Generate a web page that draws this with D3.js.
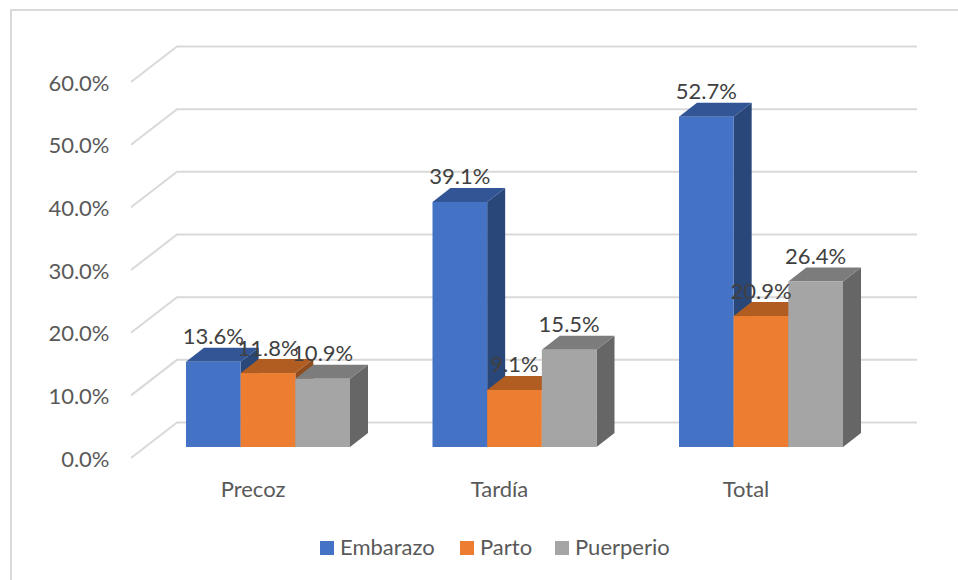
<!DOCTYPE html>
<html>
<head>
<meta charset="utf-8">
<script src="https://cdn.jsdelivr.net/npm/d3@7"></script>
<style>
  html, body { margin: 0; padding: 0; background: #fff; }
  svg { display: block; }
  text { font-family: Lato, "Open Sans", sans-serif; }
</style>
</head>
<body>
<svg width="958" height="580"></svg>
<script>
var categories = ["Precoz", "Tardía", "Total"];
var seriesNames = ["Embarazo", "Parto", "Puerperio"];
var embarazo = [13.6, 39.1, 52.7];
var parto = [11.8, 9.1, 20.9];
var puerperio = [10.9, 15.5, 26.4];
var seriesValues = [embarazo, parto, puerperio];
var tickValues = [0, 10, 20, 30, 40, 50, 60];

var front = ["#4472c4", "#ed7d31", "#a5a5a5"];
var top_ = ["#325595", "#b15d22", "#7c7c7c"];
var side = ["#2a4779", "#904c1c", "#666666"];

var svg = d3.select("svg");

// chart frame, only the top and left edges are in the picture
svg.append("path").attr("d", "M11,580V10H958")
  .attr("fill", "none").attr("stroke", "#d9d9d9").attr("stroke-width", 2);

// wall offset of the 3d box, bars sit halfway in
var wallDx = 46, wallDy = -35.5;
var depthDx = 18, depthDy = -14;

// y for the front of the floor
var y = d3.scaleLinear().domain([0, 60]).range([458, 82]);
// y for the bars, they stand further back than the axis
var yBar = d3.scaleLinear().domain([0, 60]).range([447, 71]);

var x = d3.scaleBand().domain(categories).range([131, 870.5]);
var xSeries = d3.scaleBand().domain(seriesNames).range([0, 164]);
var groupPad = 55;

var grid = svg.append("g");
tickValues.forEach(function(t) {
  grid.append("path")
    .attr("d", "M131," + y(t) + "L" + (131 + wallDx) + "," + (y(t) + wallDy) + "H917")
    .attr("fill", "none").attr("stroke", "#d9d9d9").attr("stroke-width", 2);
});

// y labels
svg.append("g").selectAll("text").data(tickValues).enter().append("text")
  .attr("x", 109.5).attr("y", function(d) { return y(d) + 8.5; })
  .attr("text-anchor", "end").attr("font-size", 22).attr("fill", "#595959")
  .text(function(d) { return d.toFixed(1) + "%"; });

// bars, drawn left to right so that the next front covers the side
var bars = svg.append("g");
categories.forEach(function(cat, c) {
  seriesNames.forEach(function(name, s) {
    var v = seriesValues[s][c];
    var x0 = x(cat) + groupPad + xSeries(name);
    var x1 = x0 + xSeries.bandwidth();
    var yt = yBar(v), yb = yBar(0);
    bars.append("path")
      .attr("d", "M" + x1 + "," + yt + "L" + (x1 + depthDx) + "," + (yt + depthDy) + "V" + (yb + depthDy) + "L" + x1 + "," + yb + "Z")
      .attr("fill", side[s]);
    bars.append("path")
      .attr("d", "M" + x0 + "," + yt + "L" + (x0 + depthDx) + "," + (yt + depthDy) + "H" + (x1 + depthDx) + "L" + x1 + "," + yt + "Z")
      .attr("fill", top_[s]);
    bars.append("rect")
      .attr("x", x0).attr("y", yt).attr("width", xSeries.bandwidth()).attr("height", yb - yt)
      .attr("fill", front[s]);
  });
});

// value labels
var labels = svg.append("g");
categories.forEach(function(cat, c) {
  seriesNames.forEach(function(name, s) {
    var v = seriesValues[s][c];
    labels.append("text")
      .attr("x", x(cat) + groupPad + xSeries(name) + xSeries.bandwidth() / 2)
      .attr("y", yBar(v) - 17.5)
      .attr("text-anchor", "middle").attr("font-size", 22).attr("fill", "#404040")
      .text(v.toFixed(1) + "%");
  });
});

// category labels
svg.append("g").selectAll("text").data(categories).enter().append("text")
  .attr("x", function(d) { return x(d) + groupPad + 82 - 15; })
  .attr("y", 497)
  .attr("text-anchor", "middle").attr("font-size", 22).attr("fill", "#595959")
  .text(function(d) { return d; });

// legend
var legendX = [320, 460, 555];
var legend = svg.append("g");
seriesNames.forEach(function(name, s) {
  legend.append("rect").attr("x", legendX[s]).attr("y", 541).attr("width", 14).attr("height", 14).attr("fill", front[s]);
  legend.append("text").attr("x", legendX[s] + 20).attr("y", 555)
    .attr("font-size", 22).attr("fill", "#595959").text(name);
});
</script>
</body>
</html>
